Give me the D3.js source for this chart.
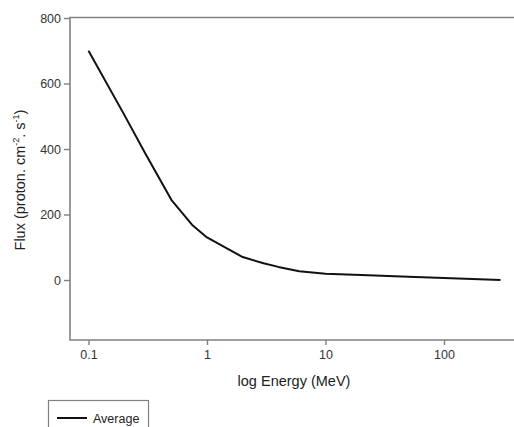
<!DOCTYPE html>
<html>
<head>
<meta charset="utf-8">
<script src="https://cdn.jsdelivr.net/npm/d3@7"></script>
<style>
  html, body { margin: 0; padding: 0; background: #fff; }
  svg { display: block; font-family: "Liberation Sans", Arial, sans-serif; }
</style>
</head>
<body>
<svg id="chart" width="514" height="427"></svg>
<script>
// Data
const energy = [0.1, 0.2, 0.3, 0.5, 0.75, 1, 2, 3, 4, 6, 10, 20, 50, 100, 300];
const flux   = [700, 505, 388, 245, 168, 130, 70, 51, 40, 27, 19, 15, 10, 6, 0];
const xTicks = [0.1, 1, 10, 100];
const xTickLabels = ["0.1", "1", "10", "100"];
const yTicks = [0, 200, 400, 600, 800];
const seriesName = "Average";

(function () {
const svg = d3.select("#chart");
const axisColor = "#808080";

// frame geometry
const fLeft = 70, fTop = 17.5, fBottom = 340, fRight = 540;

// scales calibrated from tick positions
const x = d3.scaleLog().domain([0.1, 100]).range([88.5, 444]);
x.domain([x.invert(fLeft), x.invert(fRight)]).range([fLeft, fRight]);
const y = d3.scaleLinear().domain([0, 800]).range([280, 18]);
y.domain([y.invert(fBottom), y.invert(fTop)]).range([fBottom, fTop]);

// frame (top, left, bottom; right edge lies outside the picture)
svg.append("path")
  .attr("d", `M${fRight},${fTop}H${fLeft}V${fBottom}H${fRight}`)
  .attr("fill", "none").attr("stroke", axisColor).attr("stroke-width", 1.6);

// x axis
const xAxis = d3.axisBottom(x).tickValues(xTicks)
  .tickFormat((d, i) => xTickLabels[i]).tickSize(5).tickSizeOuter(0).tickPadding(5);
const gx = svg.append("g").attr("transform", `translate(0,${fBottom})`).call(xAxis);
gx.select(".domain").remove();
gx.selectAll(".tick line").attr("stroke", axisColor).attr("stroke-width", 1.4);
gx.selectAll(".tick text").attr("font-size", 12.5).attr("fill", "#333")
  .attr("font-family", "Liberation Sans, Arial, sans-serif");

// y axis
const yAxis = d3.axisLeft(y).tickValues(yTicks).tickFormat(d3.format("d"))
  .tickSize(6).tickSizeOuter(0).tickPadding(3);
const gy = svg.append("g").attr("transform", `translate(${fLeft},0)`).call(yAxis);
gy.select(".domain").remove();
gy.selectAll(".tick line").attr("stroke", axisColor).attr("stroke-width", 1.4);
gy.selectAll(".tick text").attr("font-size", 12.5).attr("fill", "#333")
  .attr("font-family", "Liberation Sans, Arial, sans-serif");

// data line
const data = energy.map((e, i) => ({ e, f: flux[i] }));
svg.append("path").datum(data)
  .attr("fill", "none").attr("stroke", "#111").attr("stroke-width", 2)
  .attr("stroke-linejoin", "round")
  .attr("d", d3.line().x(d => x(d.e)).y(d => y(d.f)).curve(d3.curveLinear));

// x title
svg.append("text")
  .attr("x", 294).attr("y", 386)
  .attr("text-anchor", "middle").attr("font-size", 14.5).attr("fill", "#222")
  .text("log Energy (MeV)");

// y title with superscripts
const yt = svg.append("text")
  .attr("transform", "translate(25,180) rotate(-90)")
  .attr("text-anchor", "middle").attr("font-size", 14.5).attr("fill", "#222");
yt.append("tspan").text("Flux (proton. cm");
yt.append("tspan").attr("dy", -6).attr("font-size", 9).text("-2");
yt.append("tspan").attr("dy", 6).text(". s");
yt.append("tspan").attr("dy", -6).attr("font-size", 9).text("-1");
yt.append("tspan").attr("dy", 6).text(")");

// legend
const lg = svg.append("g");
lg.append("rect").attr("x", 48.5).attr("y", 400.5).attr("width", 100).attr("height", 40)
  .attr("fill", "#fff").attr("stroke", axisColor).attr("stroke-width", 1.2);
lg.append("line").attr("x1", 57).attr("x2", 87).attr("y1", 418).attr("y2", 418)
  .attr("stroke", "#111").attr("stroke-width", 2);
lg.append("text").attr("x", 93).attr("y", 422.5)
  .attr("font-size", 12.5).attr("fill", "#222").text(seriesName);
})();
</script>
</body>
</html>
